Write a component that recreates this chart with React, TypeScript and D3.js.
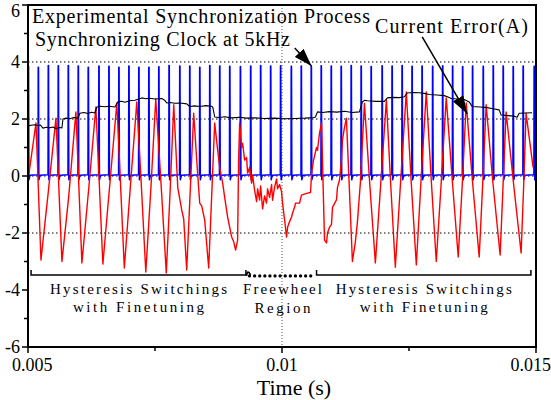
import React from 'react';
import * as d3 from 'd3';

// --- Layout ---
const W = 551;
const H = 400;
const margin = { top: 5, right: 15, bottom: 53, left: 28 };
const FONT = '"Liberation Serif", "Times New Roman", serif';

// --- Data (time in ms, current in A) ---
// synchronizing clock pulses, ~5 kHz
const clockTimes = [
  5.006, 5.202, 5.399, 5.595, 5.792, 5.988, 6.185, 6.395, 6.592, 6.788,
  6.985, 7.181, 7.378, 7.574, 7.776, 7.987, 8.183, 8.380, 8.577, 8.773,
  8.970, 9.180, 9.382, 9.578, 9.775, 9.971, 10.182, 10.378, 10.575, 10.771,
  10.968, 11.164, 11.361, 11.557, 11.754, 11.970, 12.166, 12.363, 12.559, 12.756,
  12.964, 13.161, 13.357, 13.554, 13.750, 13.960, 14.157, 14.353, 14.550, 14.746,
  14.963,
];
const clockPeaks = [
  3.87, 3.82, 3.88, 3.87, 3.88, 3.86, 3.82, 3.86, 3.85, 3.82,
  3.86, 3.82, 3.82, 3.83, 3.88, 3.86, 3.86, 3.82, 3.88, 3.86,
  3.85, 3.84, 3.86, 3.88, 3.86, 3.87, 3.85, 3.86, 3.84, 3.87,
  3.86, 3.85, 3.88, 3.86, 3.84, 3.87, 3.86, 3.88, 3.85, 3.86,
  3.85, 3.87, 3.86, 3.84, 3.86, 3.85, 3.87, 3.86, 3.84, 3.86,
  3.85,
];

// current error
const errorPoints: [number, number][] = [
  [5.020, 0.10], [5.157, 1.86], [5.255, -2.95], [5.400, -0.55], [5.550, 2.03], [5.668, -3.00],
  [5.800, -0.75], [5.943, 2.25], [6.061, -3.05], [6.200, -0.35], [6.336, 2.42], [6.474, -3.09],
  [6.610, -0.30], [6.749, 2.56], [6.896, -3.23], [7.020, -0.25], [7.142, 2.60], [7.230, -0.30],
  [7.319, -3.37], [7.420, -0.40], [7.515, 2.70], [7.620, -0.30], [7.722, -3.40], [7.800, -0.45],
  [7.869, 2.50], [7.948, -0.40], [8.026, -1.20], [8.065, -1.50], [8.124, -3.30],
  [8.262, 2.20], [8.321, 0.56], [8.380, -0.95], [8.419, -1.05], [8.478, -1.54],
  [8.557, -3.23], [8.675, 1.86], [8.734, 0.90], [8.773, 0.30], [8.832, -0.25],
  [8.871, -0.74], [8.930, -1.44], [9.009, -2.14], [9.048, -2.30], [9.087, -2.60],
  [9.126, -2.25], [9.146, 0.56], [9.166, 1.86],
  // freewheel region
  [9.205, 1.00], [9.225, 1.15], [9.264, 0.56], [9.303, 0.65], [9.323, 0.10],
  [9.362, 0.30], [9.402, -0.25], [9.421, 0.03], [9.461, -0.50], [9.500, -0.90],
  [9.520, -0.45], [9.559, -0.84], [9.579, -0.35], [9.618, -1.15], [9.657, -0.70],
  [9.696, -0.95], [9.716, -0.45], [9.755, -0.75], [9.795, -0.30], [9.814, -0.85],
  [9.854, -0.40], [9.893, -0.10], [9.913, -0.45], [9.952, -0.30], [9.991, -0.55],
  [10.011, -0.95], [10.051, -1.54], [10.090, -2.14], [10.110, -1.80], [10.149, -1.60],
  [10.188, -1.44], [10.208, -1.30], [10.247, -1.10], [10.267, -0.95], [10.345, -0.95],
  [10.384, -0.67], [10.502, -0.60], [10.562, -0.58], [10.582, 0.10], [10.621, 0.56],
  [10.680, 1.00], [10.699, 0.90], [10.738, 1.50], [10.778, 1.86],
  // back to hysteresis switching
  [10.837, -2.25], [10.876, -2.35], [10.896, -2.00], [10.935, -1.80], [10.974, -1.70],
  [10.994, -1.10], [11.072, -0.84], [11.092, -0.40], [11.131, -0.15], [11.170, 0.56],
  [11.190, 1.26], [11.229, 1.70], [11.268, 2.03], [11.386, -3.00], [11.445, -2.30],
  [11.485, -1.60], [11.544, -0.20], [11.583, 1.20], [11.623, 2.55], [11.730, -0.35],
  [11.838, -3.05], [11.950, -0.10], [12.055, 2.67], [12.140, -0.30], [12.231, -3.20],
  [12.340, -0.05], [12.447, 2.95], [12.545, -0.25], [12.644, -3.12], [12.740, -0.05],
  [12.840, 2.95], [12.940, -0.20], [13.037, -3.00], [13.135, -0.20], [13.233, 2.74],
  [13.350, -0.10], [13.469, -2.84], [13.550, -0.25], [13.626, 2.56], [13.750, -0.20],
  [13.882, -2.84], [13.950, -0.30], [14.019, 2.50], [14.150, -0.20], [14.294, -2.77],
  [14.350, -0.40], [14.412, 2.25], [14.560, -0.30], [14.707, -2.70], [14.755, -0.45],
  [14.805, 2.20], [14.943, 0.30],
];

// upper hysteresis band
const bandPoints: [number, number][] = [
  [5.000, 1.76], [5.060, 1.78], [5.138, 1.80], [5.197, 1.77], [5.240, 1.79],
  [5.295, 1.68], [5.360, 1.71], [5.432, 1.69], [5.490, 1.72], [5.550, 1.66],
  [5.610, 1.70], [5.668, 1.69], [5.688, 2.00], [5.750, 2.03], [5.825, 2.01],
  [5.900, 2.05], [5.983, 2.03], [6.022, 2.20], [6.100, 2.23], [6.179, 2.19],
  [6.250, 2.24], [6.317, 2.21], [6.356, 2.42], [6.430, 2.45], [6.513, 2.43],
  [6.600, 2.45], [6.710, 2.42], [6.769, 2.60], [6.840, 2.62], [6.906, 2.59],
  [7.000, 2.64], [7.103, 2.66], [7.180, 2.70], [7.240, 2.74], [7.320, 2.71],
  [7.397, 2.73], [7.500, 2.70], [7.633, 2.72], [7.690, 2.66], [7.731, 2.56],
  [7.800, 2.58], [7.889, 2.55], [8.000, 2.56], [8.124, 2.53], [8.183, 2.44],
  [8.280, 2.46], [8.380, 2.44], [8.500, 2.47], [8.616, 2.45], [8.640, 2.40],
  [8.675, 2.07], [8.760, 2.05], [8.871, 2.08], [9.000, 2.04], [9.166, 2.06],
  [9.300, 2.03], [9.461, 2.04], [9.650, 2.02], [9.854, 2.03], [10.050, 2.01],
  [10.247, 2.02], [10.450, 2.03], [10.640, 2.05], [10.660, 2.08], [10.699, 2.25],
  [10.800, 2.23], [10.934, 2.26], [11.080, 2.24], [11.229, 2.27], [11.380, 2.23],
  [11.524, 2.25], [11.583, 2.60], [11.630, 2.66], [11.681, 2.64], [11.850, 2.62],
  [12.015, 2.62], [12.074, 2.74], [12.200, 2.76], [12.310, 2.75], [12.408, 2.78],
  [12.467, 2.91], [12.580, 2.93], [12.703, 2.92], [12.800, 2.90], [12.899, 2.86],
  [13.050, 2.84], [13.194, 2.82], [13.280, 2.76], [13.332, 2.72], [13.450, 2.70],
  [13.587, 2.68], [13.685, 2.60], [13.744, 2.44], [13.900, 2.42], [14.039, 2.40],
  [14.150, 2.36], [14.275, 2.32], [14.314, 2.14], [14.450, 2.12], [14.570, 2.10],
  [14.629, 2.06], [14.668, 2.20], [14.800, 2.21], [14.923, 2.22],
];

// axes
const xTicks = [5, 10, 15];
const xTickLabels = ['0.005', '0.01', '0.015'];
const xMinor = [7.5, 12.5];
const yTicks = [6, 4, 2, 0, -2, -4, -6];
const yMinor = [5, 3, 1, -1, -3, -5];
const yGrid = [4, 2, 0, -2];
const xGrid = [10];

// regions under the traces (ms)
const switchRegions = [
  { from: 5.06, to: 9.29, lines: ['Hysteresis Switchings', 'with Finetuning'], widths: [177, 131] },
  { from: 10.68, to: 14.9, lines: ['Hysteresis Switchings', 'with Finetuning'], widths: [176, 128] },
];
const freewheelRegion = { from: 9.36, to: 10.66, lines: ['Freewheel', 'Region'], widths: [79, 56] };
const regionLevel = -3.47;

// annotation arrows, [tail, tip] in data units
const arrows: [number, number][][] = [
  [[10.25, 4.49], [10.58, 3.86]],
  [[12.76, 4.88], [13.646, 2.18]],
];

export default function App() {
  const x = d3.scaleLinear().domain([5, 15]).range([margin.left, W - margin.right]);
  const y = d3.scaleLinear().domain([-6, 6]).range([H - margin.bottom, margin.top]);
  const line = d3.line<[number, number]>().x(d => x(d[0])).y(d => y(d[1]));

  // clock trace: baseline with one narrow pulse per clock edge
  const clockPath: [number, number][] = [];
  clockTimes.forEach((t, i) => {
    clockPath.push([t - 0.005, 0.04], [t - 0.001, clockPeaks[i]], [t + 0.005, clockPeaks[i]], [t + 0.012, -0.13], [t + 0.035, 0.03]);
  });
  clockPath.push([15, 0.03]);

  const x0 = x(5), x1 = x(15), y0 = y(-6), y1 = y(6);
  const by = y(regionLevel);

  const centerOf = (r: { from: number; to: number }) => (x(r.from) + x(r.to)) / 2;

  return (
    <>
      <style>{`body{margin:0;}`}</style>
      <svg width={W} height={H} style={{ display: 'block', background: '#fff' }} fontFamily={FONT}>
        <defs>
          <clipPath id="plot">
            <rect x={x0} y={y1} width={x1 - x0} height={y0 - y1} />
          </clipPath>
          <marker id="head" viewBox="0 0 18 12" refX="18" refY="6" markerWidth="18" markerHeight="12"
            markerUnits="userSpaceOnUse" orient="auto">
            <path d="M0,0 L18,6 L0,12 Z" fill="#000" />
          </marker>
        </defs>

        {/* grid */}
        {yGrid.map(v => (
          <line key={'gy' + v} x1={x0} x2={x1} y1={y(v)} y2={y(v)} stroke="#000" strokeWidth={1} strokeDasharray="1.5,2.5" />
        ))}
        {xGrid.map(t => (
          <line key={'gx' + t} x1={x(t)} x2={x(t)} y1={y1} y2={y0} stroke="#555" strokeWidth={1} strokeDasharray="1,2" />
        ))}

        {/* traces */}
        <g clipPath="url(#plot)" fill="none" strokeLinejoin="round">
          <path d={line(clockPath) || ''} stroke="#0000ff" strokeWidth={1.5} />
          <path d={line(errorPoints) || ''} stroke="#ff0000" strokeWidth={1.4} />
          <path d={line(bandPoints) || ''} stroke="#000" strokeWidth={1.1} />
        </g>

        {/* frame */}
        <rect x={x0} y={y1} width={x1 - x0} height={y0 - y1} fill="none" stroke="#000" strokeWidth={2} />

        {/* y axis */}
        {yTicks.map(v => (
          <g key={'yt' + v}>
            <line x1={x0 - 6} x2={x0} y1={y(v)} y2={y(v)} stroke="#000" strokeWidth={1.5} />
            <text x={x0 - 8} y={Math.max(y(v), 11)} dy="0.35em" textAnchor="end" fontSize={18}>{v}</text>
          </g>
        ))}
        {yMinor.map(v => (
          <line key={'ym' + v} x1={x0 - 4} x2={x0} y1={y(v)} y2={y(v)} stroke="#000" strokeWidth={1.5} />
        ))}

        {/* x axis */}
        {xTicks.map((t, i) => (
          <g key={'xt' + t}>
            <line x1={x(t)} x2={x(t)} y1={y0} y2={y0 + 6} stroke="#000" strokeWidth={1.5} />
            <text
              x={i === 0 ? x(t) - 16 : i === xTicks.length - 1 ? W : x(t)}
              y={y0 + 24}
              textAnchor={i === 0 ? 'start' : i === xTicks.length - 1 ? 'end' : 'middle'}
              fontSize={18}
            >
              {xTickLabels[i]}
            </text>
          </g>
        ))}
        {xMinor.map(t => (
          <line key={'xm' + t} x1={x(t)} x2={x(t)} y1={y0} y2={y0 + 4} stroke="#000" strokeWidth={1.5} />
        ))}
        <text x={(x0 + x1) / 2 + 12} y={H - 5} textAnchor="middle" fontSize={22}>Time (s)</text>

        {/* region brackets */}
        {switchRegions.map((r, i) => (
          <g key={'sr' + i}>
            <path d={`M${x(r.from)},${by - 5}V${by}H${x(r.to)}V${by - 5}`} fill="none" stroke="#000" strokeWidth={1.5} />
            {r.lines.map((s, j) => (
              <text key={j} x={centerOf(r)} y={by + 19 + j * 18} textAnchor="middle" fontSize={15}
                textLength={r.widths[j]} lengthAdjust="spacing">{s}</text>
            ))}
          </g>
        ))}
        <g>
          <path d={`M${x(freewheelRegion.from) - 3},${by + 1}Q${x(freewheelRegion.from) - 2},${by - 6} ${x(freewheelRegion.from) + 1},${by}`}
            fill="none" stroke="#000" strokeWidth={1.8} />
          <line x1={x(freewheelRegion.from)} x2={x(freewheelRegion.to)} y1={by + 1} y2={by + 1}
            stroke="#000" strokeWidth={3.2} strokeLinecap="round" strokeDasharray="0.1,5" />
          {freewheelRegion.lines.map((s, j) => (
            <text key={j} x={centerOf(freewheelRegion)} y={by + 19 + j * 19} textAnchor="middle" fontSize={15}
              textLength={freewheelRegion.widths[j]} lengthAdjust="spacing">{s}</text>
          ))}
        </g>

        {/* annotations */}
        <text x={32} y={23} fontSize={20} textLength={338} lengthAdjust="spacing">Experimental Synchronization Process</text>
        <text x={35} y={46} fontSize={20} textLength={255} lengthAdjust="spacing">Synchronizing Clock at 5kHz</text>
        <text x={375} y={33} fontSize={20} textLength={153} lengthAdjust="spacing">Current Error(A)</text>
        {arrows.map((a, i) => (
          <line key={'ar' + i} x1={x(a[0][0])} y1={y(a[0][1])} x2={x(a[1][0])} y2={y(a[1][1])}
            stroke="#000" strokeWidth={1.5} markerEnd="url(#head)" />
        ))}
      </svg>
    </>
  );
}
